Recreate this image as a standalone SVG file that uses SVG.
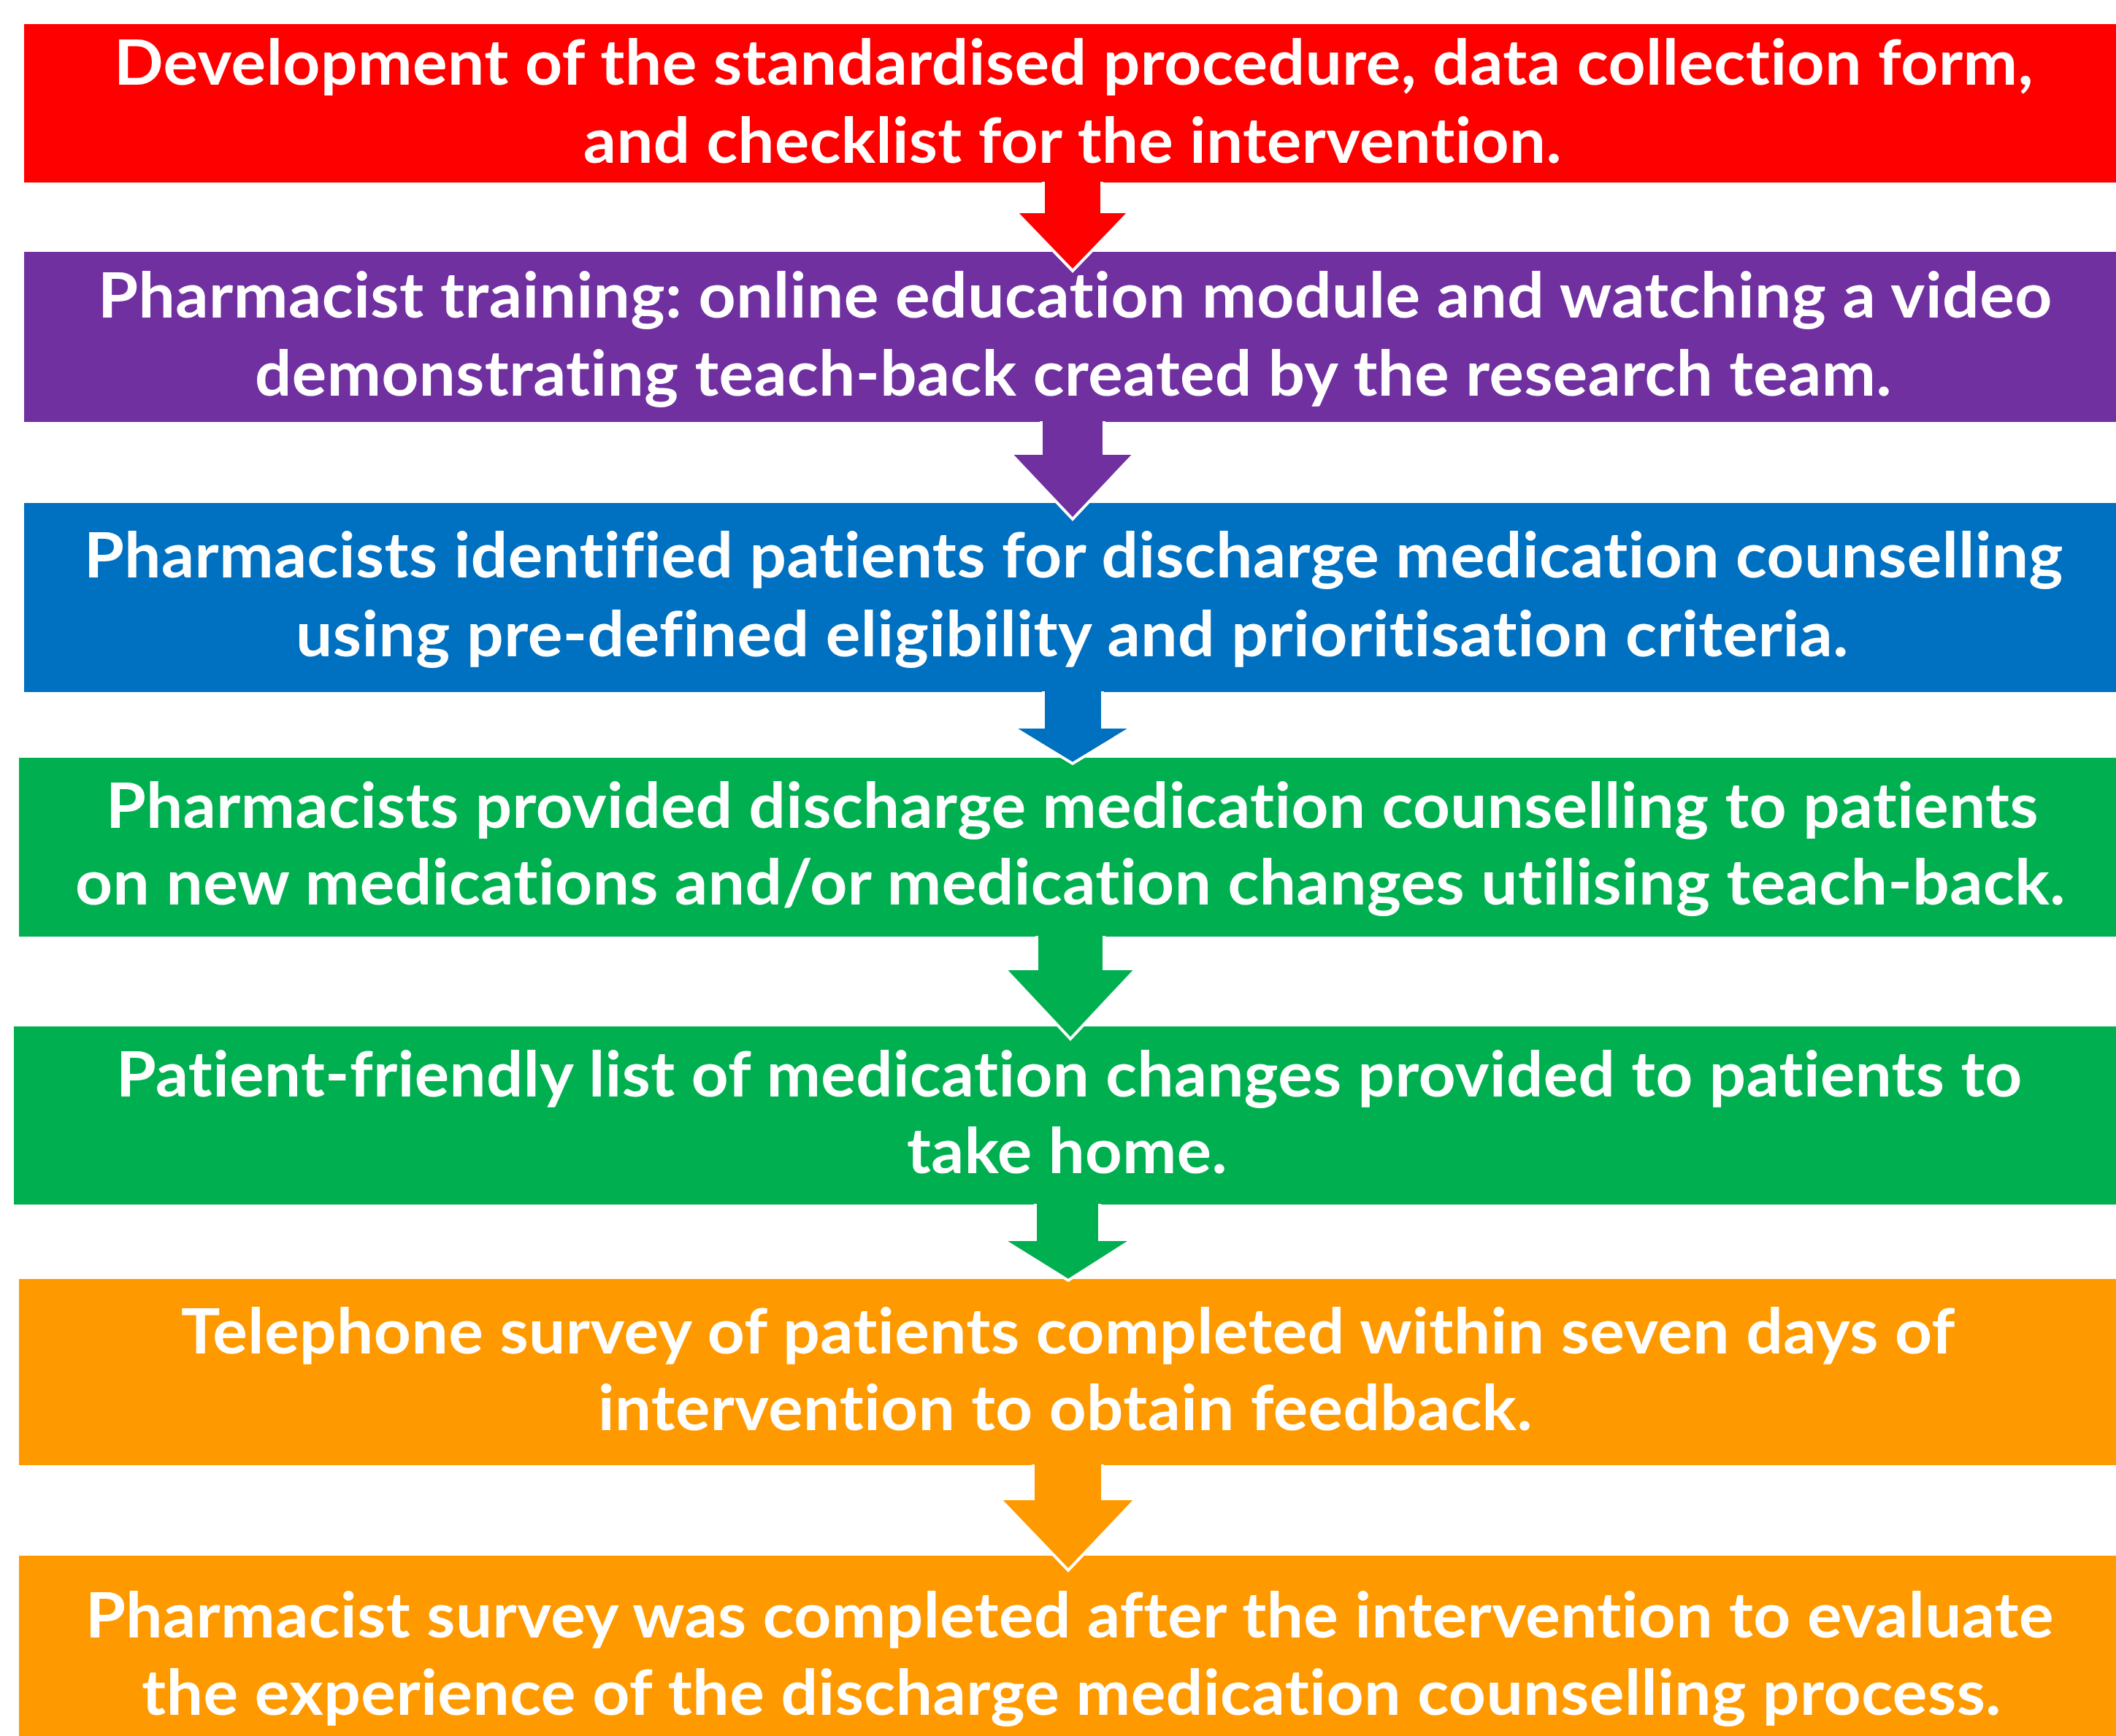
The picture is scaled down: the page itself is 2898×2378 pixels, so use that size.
<svg xmlns="http://www.w3.org/2000/svg" width="2898" height="2378" viewBox="0 0 2898 2378">
  <style>
    .lbl { font-family: Lato, "Open Sans", "Liberation Sans", sans-serif; font-weight: 700; font-size: 86px; fill: #FFFFFF; font-variant-ligatures: none; font-feature-settings: "liga" 0, "clig" 0, "dlig" 0, "calt" 0, "ccmp" 0, "rlig" 0; letter-spacing: 0.5px; }
    .edge { fill: none; stroke: #FFFFFF; stroke-width: 4; stroke-linejoin: miter; }
    .red { fill: #FF0000; }
    .purple { fill: #7030A0; }
    .blue { fill: #0070C0; }
    .green { fill: #00B050; }
    .orange { fill: #FF9900; }
  </style>
  <rect x="0" y="0" width="2898" height="2378" fill="#FFFFFF"/>

  <!-- Step boxes -->
  <g id="step1">
    <rect class="red" x="33" y="33" width="2865" height="217"/>
    <text class="lbl" x="156" y="116" textLength="2629" lengthAdjust="spacingAndGlyphs">Development of the standardised procedure, data collection form,</text>
    <text class="lbl" x="799" y="223" textLength="1340" lengthAdjust="spacingAndGlyphs">and checklist for the intervention.</text>
  </g>
  <g id="step2">
    <rect class="purple" x="33" y="345" width="2865" height="233"/>
    <text class="lbl" x="134" y="435" textLength="2677" lengthAdjust="spacingAndGlyphs">Pharmacist training: online education module and watching a video</text>
    <text class="lbl" x="349" y="542" textLength="2242" lengthAdjust="spacingAndGlyphs">demonstrating teach-back created by the research team.</text>
  </g>
  <g id="step3">
    <rect class="blue" x="33" y="689" width="2865" height="259"/>
    <text class="lbl" x="115" y="791" textLength="2711" lengthAdjust="spacingAndGlyphs">Pharmacists identified patients for discharge medication counselling</text>
    <text class="lbl" x="405" y="899" textLength="2127" lengthAdjust="spacingAndGlyphs">using pre-defined eligibility and prioritisation criteria.</text>
  </g>
  <g id="step4">
    <rect class="green" x="26" y="1038" width="2872" height="245"/>
    <text class="lbl" x="145" y="1134" textLength="2647" lengthAdjust="spacingAndGlyphs">Pharmacists provided discharge medication counselling to patients</text>
    <text class="lbl" x="103" y="1239" textLength="2726" lengthAdjust="spacingAndGlyphs">on new medications and/or medication changes utilising teach-back.</text>
  </g>
  <g id="step5">
    <rect class="green" x="19" y="1406" width="2879" height="244"/>
    <text class="lbl" x="159" y="1502" textLength="2611" lengthAdjust="spacingAndGlyphs">Patient-friendly list of medication changes provided to patients to</text>
    <text class="lbl" x="1242" y="1607" textLength="439" lengthAdjust="spacingAndGlyphs">take home.</text>
  </g>
  <g id="step6">
    <rect class="orange" x="26" y="1752" width="2872" height="255"/>
    <text class="lbl" x="248" y="1854" textLength="2430" lengthAdjust="spacingAndGlyphs">Telephone survey of patients completed within seven days of</text>
    <text class="lbl" x="819" y="1959" textLength="1280" lengthAdjust="spacingAndGlyphs">intervention to obtain feedback.</text>
  </g>
  <g id="step7">
    <rect class="orange" x="26" y="2131" width="2872" height="260"/>
    <text class="lbl" x="117" y="2243" textLength="2696" lengthAdjust="spacingAndGlyphs">Pharmacist survey was completed after the intervention to evaluate</text>
    <text class="lbl" x="194" y="2349" textLength="2547" lengthAdjust="spacingAndGlyphs">the experience of the discharge medication counselling process.</text>
  </g>

  <!-- Block arrows between steps: filled body plus a white outline on the sides -->
  <g id="connectors">
    <g id="arrow1-2">
      <polygon class="red" points="1429,249 1509,249 1509,290 1547,290 1469,371 1391,290 1429,290"/>
      <polyline class="edge" points="1509,249 1509,290 1547,290 1469,371 1391,290 1429,290 1429,249"/>
    </g>
    <g id="arrow2-3">
      <polygon class="purple" points="1426,577 1512,577 1512,621 1554,621 1469,711 1384,621 1426,621"/>
      <polyline class="edge" points="1512,577 1512,621 1554,621 1469,711 1384,621 1426,621 1426,577"/>
    </g>
    <g id="arrow3-4">
      <polygon class="blue" points="1429,947 1510,947 1510,996 1551,996 1469,1046 1387,996 1429,996"/>
      <polyline class="edge" points="1510,947 1510,996 1551,996 1469,1046 1387,996 1429,996 1429,947"/>
    </g>
    <g id="arrow4-5">
      <polygon class="green" points="1420,1282 1512,1282 1512,1327 1556,1327 1466,1423 1376,1327 1420,1327"/>
      <polyline class="edge" points="1512,1282 1512,1327 1556,1327 1466,1423 1376,1327 1420,1327 1420,1282"/>
    </g>
    <g id="arrow5-6">
      <polygon class="green" points="1418,1649 1506,1649 1506,1698 1551,1698 1463,1754 1373,1698 1418,1698"/>
      <polyline class="edge" points="1506,1649 1506,1698 1551,1698 1463,1754 1373,1698 1418,1698 1418,1649"/>
    </g>
    <g id="arrow6-7">
      <polygon class="orange" points="1415,2006 1510,2006 1510,2053 1556,2053 1463,2151 1369,2053 1415,2053"/>
      <polyline class="edge" points="1510,2006 1510,2053 1556,2053 1463,2151 1369,2053 1415,2053 1415,2006"/>
    </g>
  </g>
</svg>
